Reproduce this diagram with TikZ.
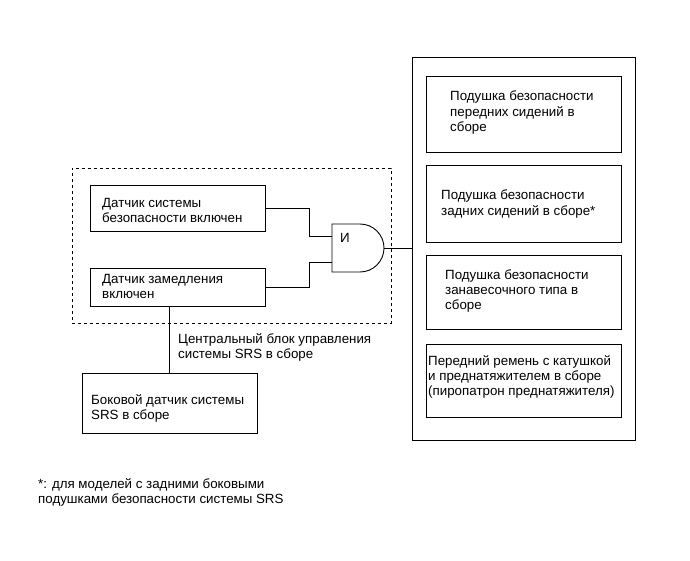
\documentclass[tikz,border=0pt]{standalone}
\usepackage{fontspec}
\setmainfont{Liberation Sans}
\begin{document}
\begin{tikzpicture}[x=1pt,y=-1pt,
  box/.style={draw,line width=0.9pt,inner sep=0pt},
  txt/.style={anchor=base west,align=left,inner sep=0pt,font=\fontsize{13.33}{15.2}\selectfont},
  wire/.style={line width=0.9pt}]
\useasboundingbox (0,0) rectangle (690,561);
% dashed ECU box
\node[draw,dashed,line width=0.8pt,minimum width=319pt,minimum height=155pt,inner sep=0pt] (ecu) at (231.5,245.5) {};
% sensors
\node[box,minimum width=175pt,minimum height=46pt] (b1) at (177.5,208) {};
\node[txt] (t1) at (102,222.2) {Датчик системы\\безопасности включен};
\node[box,minimum width=175pt,minimum height=38pt] (b2) at (177.5,287) {};
\node[txt] (t2) at (102,298.2) {Датчик замедления\\включен};
% gate
\draw[wire] (332,224) -- (360,224) arc (-90:90:24) -- (332,272) -- cycle;
\node[txt] (and) at (340,243) {И};
\coordinate (gin1) at (332,236);
\coordinate (gin2) at (332,262);
\coordinate (gout) at (384,248);
\coordinate (j1) at (309,236);
\coordinate (j2) at (309,262);
\draw[wire] (b1.east) -| (j1) -- (gin1);
\draw[wire] (b2.east) -| (j2) -- (gin2);
% ECU label
\node[txt] (ecul) at (178,358.2) {Центральный блок управления\\системы SRS в сборе};
% side sensor
\node[box,minimum width=175pt,minimum height=60pt] (b3) at (169.5,403) {};
\node[txt] (t3) at (91,419.2) {Боковой датчик системы\\SRS в сборе};
\coordinate (vx) at (169,0);
\draw[wire] (b2.south -| vx) -- (b3.north -| vx);
% right column
\node[box,minimum width=223pt,minimum height=383pt] (out) at (523.5,248.5) {};
\draw[wire] (gout) -- (out.west |- gout);
\node[box,minimum width=195pt,minimum height=76pt] (ra) at (523.5,114) {};
\node[txt] (ta) at (450,131.4) {Подушка безопасности\\передних сидений в\\сборе};
\node[box,minimum width=195pt,minimum height=77pt] (rb) at (523.5,203.5) {};
\node[txt] (tb) at (441,215.2) {Подушка безопасности\\задних сидений в сборе*};
\node[box,minimum width=195pt,minimum height=74pt] (rc) at (523.5,292) {};
\node[txt] (tc) at (445,309.4) {Подушка безопасности\\занавесочного типа в\\сборе};
\node[box,minimum width=195pt,minimum height=73pt] (rd) at (523.5,380.5) {};
\node[txt] (td) at (428,395.4) {Передний ремень с катушкой\\и преднатяжителем в сборе\\(пиропатрон преднатяжителя)};
% footnote
\node[txt] (fn) at (38,503.2) {*: для моделей с задними боковыми\\подушками безопасности системы SRS};
\end{tikzpicture}
\end{document}
